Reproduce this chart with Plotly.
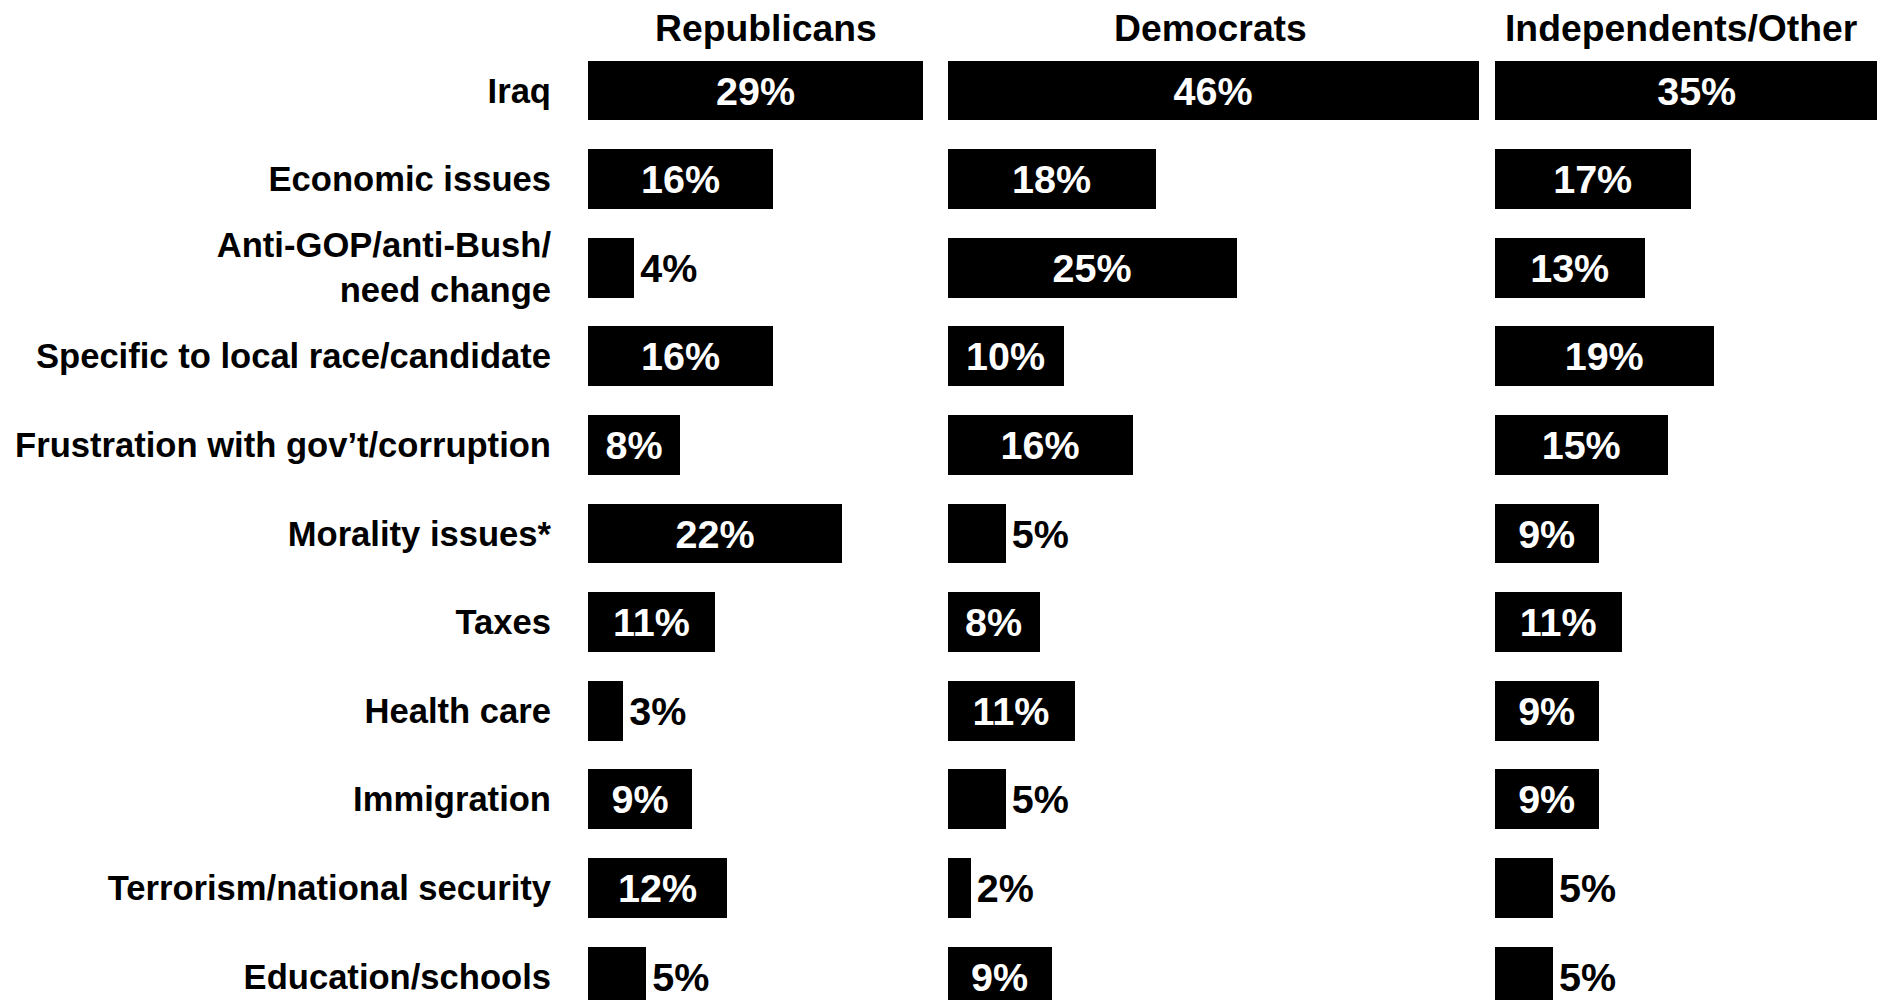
import plotly.graph_objects as go

categories = [
    "Iraq",
    "Economic issues",
    "Anti-GOP/anti-Bush/<br>need change",
    "Specific to local race/candidate",
    "Frustration with gov’t/corruption",
    "Morality issues*",
    "Taxes",
    "Health care",
    "Immigration",
    "Terrorism/national security",
    "Education/schools",
]
groups = ["Republicans", "Democrats", "Independents/Other"]
republicans = [29, 16, 4, 16, 8, 22, 11, 3, 9, 12, 5]
democrats = [46, 18, 25, 10, 16, 5, 8, 11, 5, 2, 9]
independents = [35, 17, 13, 19, 15, 9, 11, 9, 9, 5, 5]
series = [republicans, democrats, independents]

OFF = 8  # page body margin
W, H = 1885 - OFF, 1000 - OFF
FONT = "Liberation Sans, Arial, sans-serif"
pos = list(range(len(categories)))

# screen-pixel layout of the three panels (common scale of ~11.55 px per %)
scale = 11.55
panel_left = [588.0, 947.5, 1494.7]
panel_right = [934.5, 1482.0, 1885.0]

fig = go.Figure()
axis_ids = ["", "2", "3"]
for k, (name, vals) in enumerate(zip(groups, series)):
    inside = [v * scale > 75 for v in vals]
    fig.add_trace(go.Bar(
        x=vals, y=pos, orientation="h", name=name,
        width=0.677,
        marker=dict(color="black", line=dict(width=0)),
        text=[f"{v}%" if ins else f"\u200a{v}%" for v, ins in zip(vals, inside)],
        textposition=["inside" if ins else "outside" for ins in inside],
        textangle=0,
        constraintext="none",
        insidetextanchor="middle",
        insidetextfont=dict(family=FONT, size=39.5, color="white", weight="bold"),
        outsidetextfont=dict(family=FONT, size=39.5, color="black", weight="bold"),
        xaxis="x" + axis_ids[k], yaxis="y" + axis_ids[k],
        showlegend=False, hoverinfo="skip",
    ))

# y range: bar centres at 90.5 + 88.6*i screen px
pitch = 88.6
c0 = 90.5 - OFF
yrange = [(H - c0) / pitch, -c0 / pitch]

layout = dict(
    width=W, height=H,
    margin=dict(l=0, r=0, t=0, b=0),
    plot_bgcolor="white", paper_bgcolor="white",
    bargap=0,
)
for k in range(3):
    xr = (panel_right[k] - panel_left[k]) / scale
    layout["xaxis" + axis_ids[k]] = dict(
        domain=[(panel_left[k] - OFF) / W, min(1.0, (panel_right[k] - OFF) / W)],
        range=[0, xr], showgrid=False, zeroline=False,
        showticklabels=False, showline=False, ticks="",
        anchor="y" + axis_ids[k], fixedrange=True,
    )
    ya = dict(
        domain=[0, 1], range=yrange, showgrid=False, zeroline=False,
        showline=False, anchor="x" + axis_ids[k], fixedrange=True,
    )
    if k == 0:
        ya.update(
            tickvals=pos, ticktext=categories, ticks="",
            ticklabelstandoff=36,
            tickfont=dict(family=FONT, size=34.6, color="black", weight="bold"),
        )
    else:
        ya.update(showticklabels=False, ticks="")
    layout["yaxis" + axis_ids[k]] = ya

header_x = [766, 1210, 1681]
layout["annotations"] = [
    dict(text=g, x=(hx - OFF) / W, y=1 - (28 - OFF) / H, xref="paper", yref="paper",
         xanchor="center", yanchor="middle", showarrow=False,
         font=dict(family=FONT, size=37.3, color="black", weight="bold"))
    for g, hx in zip(groups, header_x)
]
fig.update_layout(**layout)
fig.write_html("out.html")
